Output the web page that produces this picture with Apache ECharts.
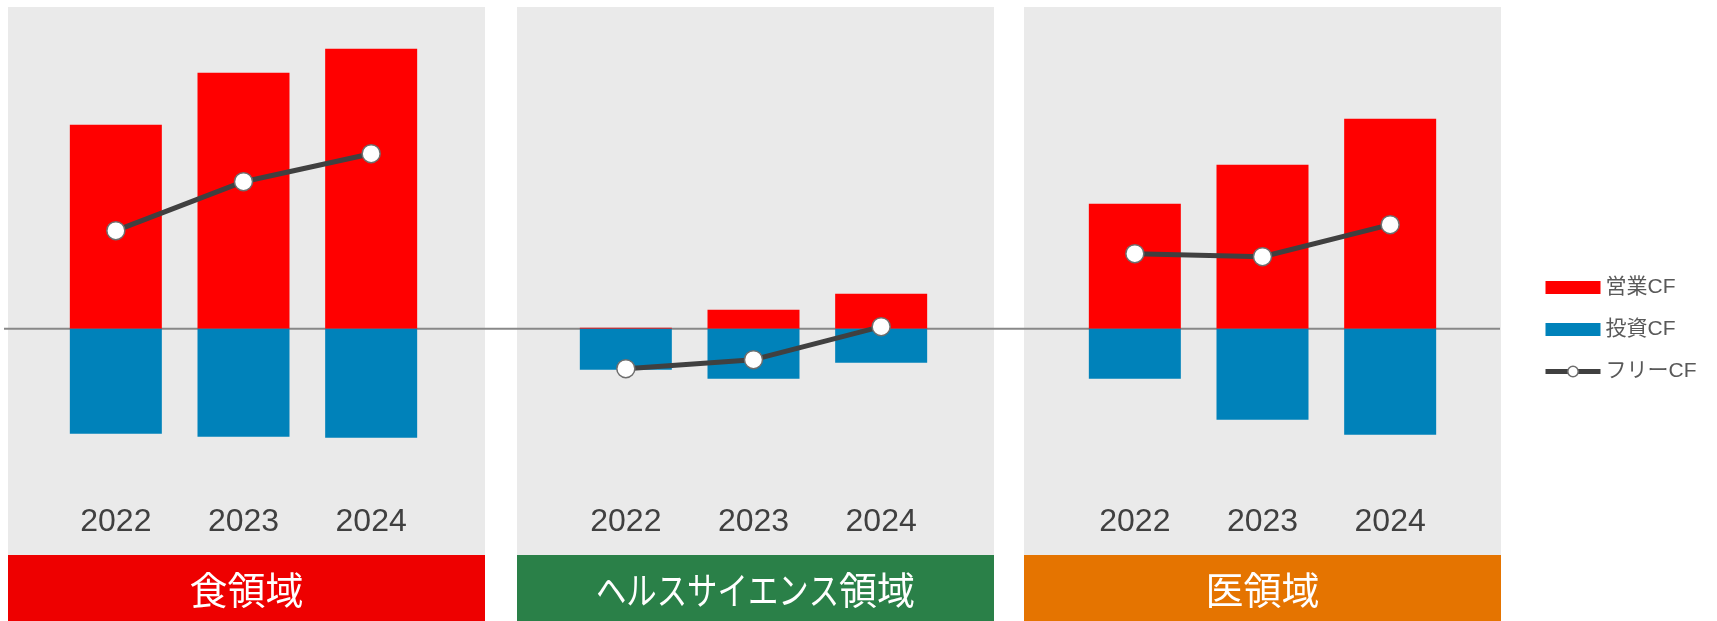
<!DOCTYPE html>
<html>
<head>
<meta charset="utf-8">
<script src="https://cdn.jsdelivr.net/npm/echarts@6/dist/echarts.min.js"></script>
<style>
html,body{margin:0;padding:0;background:#fff;}
#main{width:1717px;height:621px;}
</style>
</head>
<body>
<div id="main"></div>
<script>
// ---- data ----
const years = ['2022', '2023', '2024'];
const segments = ['食領域', 'ヘルスサイエンス領域', '医領域'];
const seriesNames = ['営業CF', '投資CF', 'フリーCF'];
// operating CF per segment
const opFood = [204, 256, 284];
const opHealth = [1, 19, 35];
const opMed = [125, 164, 210];
// investing CF per segment
const invFood = [-105, -108, -109];
const invHealth = [-41, -50, -34];
const invMed = [-50, -91, -106];
// free CF per segment
const freeFood = [98, 147, 175];
const freeHealth = [-40, -31, 2];
const freeMed = [75, 72, 104];

const opAll = [opFood, opHealth, opMed];
const invAll = [invFood, invHealth, invMed];
const freeAll = [freeFood, freeHealth, freeMed];

// ---- layout ----
const panelColors = ['#EE0000', '#2A8048', '#E57400'];
const panelLeft = [8, 517, 1024];
const panelWidth = 477;
const gridLeft = [52, 562, 1071];
const gridWidth = 383;
const gridTop = 48.7;
const gridHeight = 450;
const yMin = -170, yMax = 280;
const titleFont = 38;
const kanaScale = 0.8;

const chart = echarts.init(document.getElementById('main'));

const grids = [], xAxes = [], yAxes = [], series = [];
for (let i = 0; i < 3; i++) {
  grids.push({left: gridLeft[i], top: gridTop, width: gridWidth, height: gridHeight});
  xAxes.push({
    type: 'category', gridIndex: i, data: years, position: 'bottom',
    axisLine: {show: false}, axisTick: {show: false},
    axisLabel: {color: '#404040', fontSize: 32, fontFamily: 'Liberation Sans, Arial, sans-serif', margin: 7}
  });
  yAxes.push({
    type: 'value', gridIndex: i, min: yMin, max: yMax,
    show: false, splitLine: {show: false}
  });
  series.push({
    name: seriesNames[0], type: 'bar', xAxisIndex: i, yAxisIndex: i,
    data: opAll[i], barWidth: 92, barGap: '-100%',
    itemStyle: {color: '#FF0000'}, z: 2
  });
  series.push({
    name: seriesNames[1], type: 'bar', xAxisIndex: i, yAxisIndex: i,
    data: invAll[i], barWidth: 92, barGap: '-100%',
    itemStyle: {color: '#0082BA'}, z: 2
  });
  series.push({
    name: seriesNames[2], type: 'line', xAxisIndex: i, yAxisIndex: i,
    data: freeAll[i], symbol: 'circle', symbolSize: 18,
    lineStyle: {color: '#404040', width: 5},
    itemStyle: {color: '#FFFFFF', borderColor: '#6E6E6E', borderWidth: 1.5},
    z: 5
  });
}

const graphics = [];
const titleStyle = (t, align) => ({
  text: t, fill: '#FFFFFF', fontSize: titleFont,
  fontFamily: 'Noto Sans CJK JP, sans-serif',
  align: align, verticalAlign: 'middle'
});
for (let i = 0; i < 3; i++) {
  graphics.push({
    type: 'rect', z: -10, silent: true,
    shape: {x: panelLeft[i], y: 7, width: panelWidth, height: 548},
    style: {fill: '#EAEAEA'}
  });
  graphics.push({
    type: 'rect', z: -5, silent: true,
    shape: {x: panelLeft[i], y: 555, width: panelWidth, height: 66},
    style: {fill: panelColors[i]}
  });
  const cx = panelLeft[i] + panelWidth / 2;
  const label = segments[i];
  // split off katakana (rendered with tighter, proportional-like width)
  const m = label.match(/^([\u30A0-\u30FF]+)(.*)$/);
  if (m) {
    const kanaW = m[1].length * titleFont * kanaScale;
    const restW = m[2].length * titleFont;
    const start = cx - (kanaW + restW) / 2;
    graphics.push({
      type: 'text', z: 10, silent: true, x: start, y: 590, scaleX: kanaScale,
      style: titleStyle(m[1], 'left')
    });
    graphics.push({
      type: 'text', z: 10, silent: true, x: start + kanaW, y: 590,
      style: titleStyle(m[2], 'left')
    });
  } else {
    graphics.push({
      type: 'text', z: 10, silent: true, x: cx, y: 590,
      style: titleStyle(label, 'center')
    });
  }
}

chart.setOption({
  backgroundColor: '#FFFFFF',
  animation: false,
  grid: grids,
  xAxis: xAxes,
  yAxis: yAxes,
  legend: {
    orient: 'vertical', left: 1538, top: 272, itemGap: 21,
    itemWidth: 55, itemHeight: 13,
    data: [
      {name: seriesNames[0], icon: 'rect'},
      {name: seriesNames[1], icon: 'rect'},
      {name: seriesNames[2], lineStyle: {width: 5, color: '#404040'},
       itemStyle: {color: '#FFFFFF', borderColor: '#6E6E6E', borderWidth: 1.5}}
    ],
    textStyle: {color: '#595959', fontSize: 21, fontFamily: 'Liberation Sans, Noto Sans CJK JP, sans-serif'},
    selectedMode: false
  },
  series: series,
  graphic: graphics
});

// zero line across all panels, positioned via the y scale
const zeroY = chart.convertToPixel({yAxisIndex: 0}, 0);
graphics.push({
  type: 'line', z: 1, silent: true,
  shape: {x1: 4, y1: zeroY, x2: 1500, y2: zeroY},
  style: {stroke: '#888888', lineWidth: 2}
});
chart.setOption({graphic: graphics});
</script>
</body>
</html>
